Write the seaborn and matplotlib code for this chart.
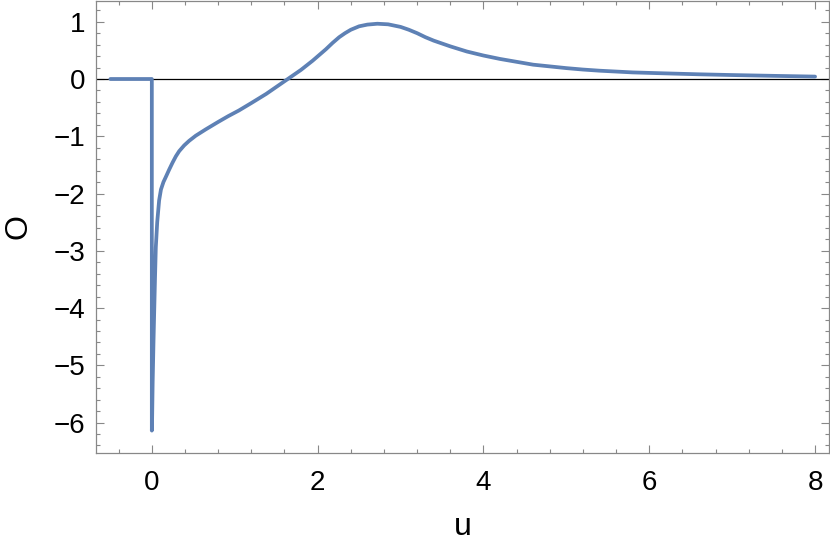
import numpy as np
import pandas as pd
import matplotlib
matplotlib.use("Agg")
import matplotlib.pyplot as plt
import seaborn as sns
from matplotlib.ticker import MultipleLocator

# values
u = [-0.5, 0.0, 0.0, 0.003, 0.01, 0.02, 0.028, 0.038, 0.048, 0.065, 0.088,
     0.11, 0.14, 0.169, 0.21, 0.25, 0.29, 0.33, 0.39, 0.45, 0.53, 0.65, 0.8,
     0.92, 1.05, 1.2, 1.38, 1.5, 1.64, 1.8, 1.94, 2.02, 2.1, 2.18, 2.26, 2.33,
     2.4, 2.5, 2.6, 2.72, 2.85, 3.0, 3.1, 3.2, 3.3, 3.4, 3.6, 3.8, 4.0, 4.2,
     4.4, 4.6, 4.8, 5.0, 5.2, 5.4, 5.8, 6.2, 6.6, 7.0, 7.5, 8.0]
O = [0.0, 0.0, -6.14, -6.0, -5.3, -4.6, -4.1, -3.5, -2.94, -2.5, -2.12,
     -1.93, -1.8, -1.71, -1.58, -1.46, -1.35, -1.26, -1.16, -1.08, -0.99, -0.88, -0.75,
     -0.65, -0.55, -0.42, -0.26, -0.14, 0.0, 0.16, 0.32, 0.42, 0.52, 0.63, 0.73, 0.80,
     0.86, 0.92, 0.95, 0.965, 0.955, 0.91, 0.86, 0.80, 0.73, 0.67, 0.57, 0.48, 0.41, 0.35,
     0.30, 0.25, 0.22, 0.19, 0.165, 0.145, 0.115, 0.098, 0.082, 0.069, 0.055, 0.042]

df = pd.DataFrame({"u": u, "O": O})

sns.set_style("white")
plt.rcParams["font.family"] = ["Liberation Sans", "DejaVu Sans"]
plt.rcParams["text.color"] = "black"
plt.rcParams["axes.labelcolor"] = "black"
plt.rcParams["xtick.color"] = "#888888"
plt.rcParams["ytick.color"] = "#888888"
plt.rcParams["xtick.labelcolor"] = "black"
plt.rcParams["ytick.labelcolor"] = "black"

fig = plt.figure(figsize=(8.3, 5.49), dpi=100)
ax = fig.add_axes([0.116, 0.175, 0.883, 0.824])

ax.axhline(0, color="black", lw=0.9, zorder=1)
sns.lineplot(data=df, x="u", y="O", sort=False, estimator=None,
             color="#5E81B5", lw=2.7, ax=ax, zorder=2)

ax.set_xlim(-0.67, 8.17)
ax.set_ylim(-6.53, 1.37)
ax.xaxis.set_major_locator(MultipleLocator(2))
ax.xaxis.set_minor_locator(MultipleLocator(0.4))
ax.yaxis.set_major_locator(MultipleLocator(1))
ax.yaxis.set_minor_locator(MultipleLocator(0.2))

for s in ax.spines.values():
    s.set_color("#888888")
    s.set_linewidth(0.9)
ax.tick_params(which="both", direction="in", bottom=True, left=True,
               top=True, right=True, width=0.8)
ax.tick_params(which="major", length=6, labelsize=20, pad=8)
ax.tick_params(which="minor", length=3.2)
ax.tick_params(axis="x", which="major", pad=12)

ax.set_xlabel("u", fontsize=23, labelpad=12)
ax.set_ylabel("O", fontsize=23, labelpad=14)

fig.savefig("out.png", dpi=100)
